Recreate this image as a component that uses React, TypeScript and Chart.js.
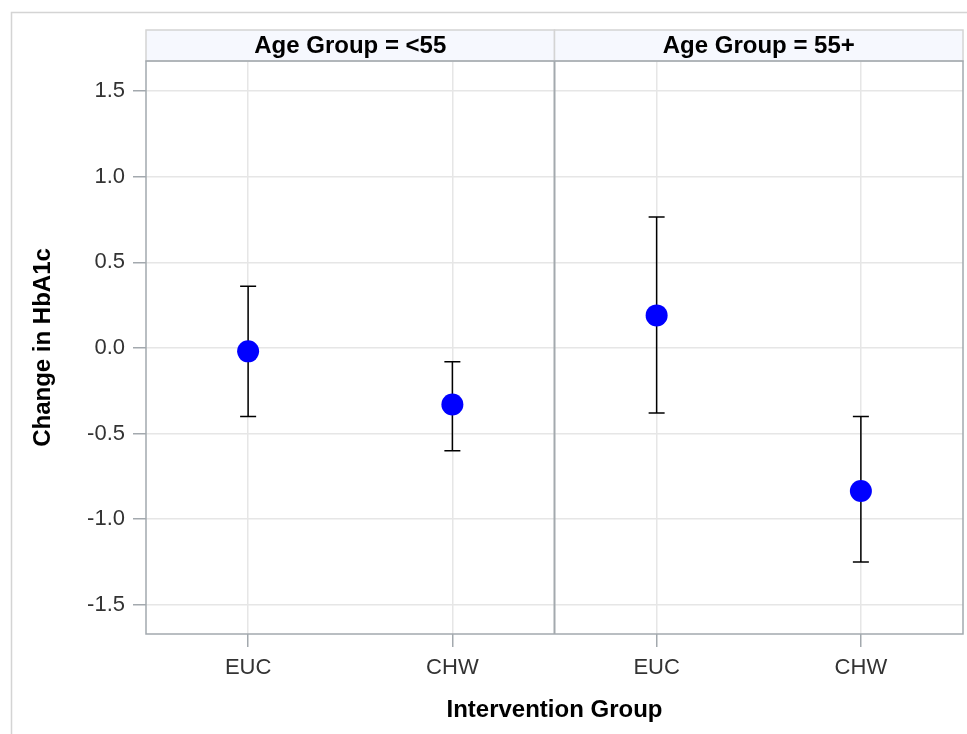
import React, { useEffect, useRef } from "react";
import { Chart, registerables } from "chart.js";

Chart.register(...registerables);

const panelTitles = ["Age Group = <55", "Age Group = 55+"];
const categories = ["EUC", "CHW", "EUC", "CHW"];
const meanValues = [-0.02, -0.33, 0.19, -0.835];
const upperValues = [0.36, -0.08, 0.765, -0.4];
const lowerValues = [-0.4, -0.6, -0.38, -1.25];
const yTickValues = [-1.5, -1.0, -0.5, 0.0, 0.5, 1.0, 1.5];
const yTitle = "Change in HbA1c";
const xTitle = "Intervention Group";

const FONT = '"Liberation Sans", Arial, sans-serif';
const W = 967;
const H = 734;

const facetPlugin = {
  id: "facetPlugin",
  beforeDraw(chart: any) {
    const { ctx } = chart;
    ctx.save();
    ctx.fillStyle = "#ffffff";
    ctx.fillRect(0, 0, W, H);
    ctx.strokeStyle = "#d4d4d4";
    ctx.lineWidth = 1.5;
    ctx.strokeRect(11.5, 12.5, W + 20, H + 20);
    ctx.restore();
  },
  beforeDatasetsDraw(chart: any) {
    const { ctx, scales } = chart;
    const xs = scales.x;
    const ys = scales.y;
    ctx.save();
    ctx.strokeStyle = "#000000";
    ctx.lineWidth = 1.5;
    for (let i = 0; i < meanValues.length; i++) {
      const x = xs.getPixelForValue(i);
      const yt = ys.getPixelForValue(upperValues[i]);
      const yb = ys.getPixelForValue(lowerValues[i]);
      ctx.beginPath();
      ctx.moveTo(x, yt);
      ctx.lineTo(x, yb);
      ctx.moveTo(x - 8, yt);
      ctx.lineTo(x + 8, yt);
      ctx.moveTo(x - 8, yb);
      ctx.lineTo(x + 8, yb);
      ctx.stroke();
    }
    ctx.restore();
  },
  afterDraw(chart: any) {
    const { ctx, chartArea, scales } = chart;
    const xs = scales.x;
    const { left, right, top, bottom } = chartArea;
    const mid = (xs.getPixelForValue(1) + xs.getPixelForValue(2)) / 2;
    ctx.save();
    const hTop = 30;
    const hBot = top;
    const bounds = [
      [left, mid],
      [mid, right],
    ];
    bounds.forEach(([a, b], i) => {
      ctx.fillStyle = "#f6f8fe";
      ctx.fillRect(a, hTop, b - a, hBot - hTop);
      ctx.strokeStyle = "#d4d4d4";
      ctx.lineWidth = 1.5;
      ctx.strokeRect(a, hTop, b - a, hBot - hTop);
      ctx.fillStyle = "#000000";
      ctx.font = `bold 24px ${FONT}`;
      ctx.textAlign = "center";
      ctx.textBaseline = "middle";
      ctx.fillText(panelTitles[i], (a + b) / 2, (hTop + hBot) / 2 + 1);
    });
    ctx.strokeStyle = "#a3a9ae";
    ctx.lineWidth = 1.5;
    ctx.strokeRect(left, top, right - left, bottom - top);
    ctx.lineWidth = 2;
    ctx.beginPath();
    ctx.moveTo(mid, top);
    ctx.lineTo(mid, bottom);
    ctx.stroke();
    ctx.fillStyle = "#000000";
    ctx.font = `bold 24px ${FONT}`;
    ctx.textAlign = "center";
    ctx.textBaseline = "middle";
    ctx.fillText(xTitle, (left + right) / 2, 710);
    ctx.translate(43, (top + bottom) / 2);
    ctx.rotate(-Math.PI / 2);
    ctx.fillText(yTitle, 0, 0);
    ctx.restore();
  },
};

export default function App() {
  const ref = useRef<HTMLCanvasElement | null>(null);
  useEffect(() => {
    if (!ref.current) return;
    const chart = new Chart(ref.current, {
      type: "line",
      data: {
        labels: categories,
        datasets: [
          {
            data: meanValues,
            showLine: false,
            pointRadius: 11,
            pointHoverRadius: 11,
            pointBackgroundColor: "#0000ff",
            pointBorderColor: "#0000ff",
            pointBorderWidth: 0,
          },
        ],
      },
      options: {
        animation: false,
        responsive: false,
        devicePixelRatio: 1,
        layout: { autoPadding: false, padding: { top: 61, right: 4, left: 0, bottom: 0 } },
        plugins: {
          legend: { display: false },
          tooltip: { enabled: false },
          title: { display: false },
        },
        scales: {
          x: {
            type: "category",
            offset: true,
            border: { display: false },
            grid: {
              offset: false,
              color: "#e6e6e6",
              lineWidth: 1.5,
              tickColor: "#a3a9ae",
              tickLength: 13,
              drawTicks: true,
            },
            ticks: {
              font: { family: FONT, size: 22 },
              color: "#333333",
              padding: 8,
              autoSkip: false,
              maxRotation: 0,
            },
            afterFit(scale: any) {
              scale.height = 100;
            },
          },
          y: {
            type: "linear",
            min: -1.67,
            max: 1.675,
            border: { display: false },
            grid: {
              color: "#e6e6e6",
              lineWidth: 1.5,
              tickColor: "#a3a9ae",
              tickLength: 13,
              drawTicks: true,
            },
            ticks: {
              font: { family: FONT, size: 22 },
              color: "#333333",
              padding: 8,
              callback: (v: any) => Number(v).toFixed(1),
            },
            afterBuildTicks(scale: any) {
              scale.ticks = yTickValues.map((v) => ({ value: v }));
            },
            afterFit(scale: any) {
              scale.width = 146;
            },
          },
        },
      },
      plugins: [facetPlugin],
    });
    return () => chart.destroy();
  }, []);
  return (
    <div style={{ position: "absolute", left: 0, top: 0, width: W, height: H }}>
      <canvas ref={ref} width={W} height={H} style={{ width: W, height: H, display: "block" }} />
    </div>
  );
}
